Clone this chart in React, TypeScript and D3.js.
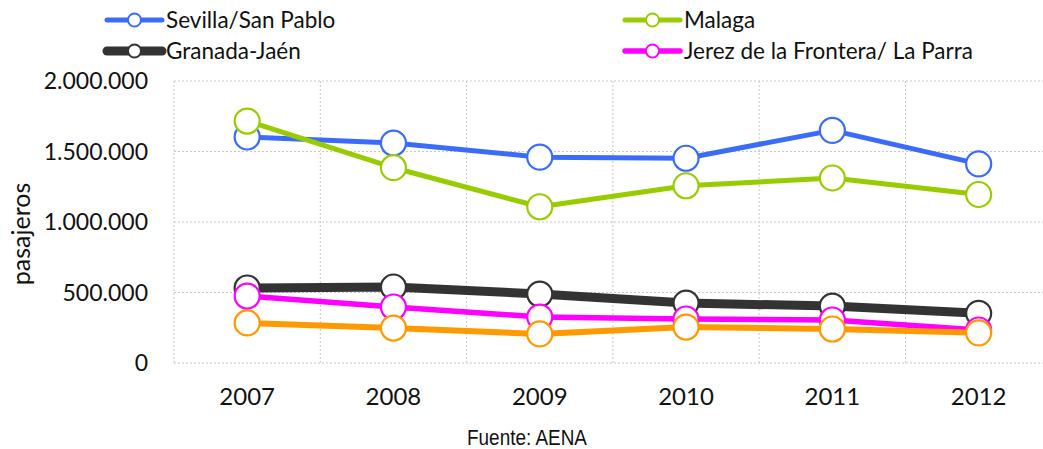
import React from "react";
import * as d3 from "d3";

const W = 1043;
const H = 449;

const years = ["2007", "2008", "2009", "2010", "2011", "2012"];
const yTicks = [0, 500000, 1000000, 1500000, 2000000];

const sevilla = [1603000, 1560000, 1460000, 1452000, 1650000, 1412000];
const malaga = [1716000, 1385000, 1108000, 1257000, 1312000, 1195000];
const granada = [532000, 539000, 489000, 425000, 404000, 352000];
const jerez = [475000, 397000, 326000, 312000, 305000, 234000];
const otro = [284000, 248000, 206000, 255000, 241000, 214000];

const series = [
  { name: "Sevilla/San Pablo", values: sevilla, color: "#3B6CF9", width: 5 },
  { name: "Malaga", values: malaga, color: "#99CC00", width: 5 },
  { name: "Granada-Jaén", values: granada, color: "#333333", width: 9 },
  { name: "Jerez de la Frontera/ La Parra", values: jerez, color: "#FF00FF", width: 5.5 },
  { name: "", values: otro, color: "#FF9900", width: 6 },
];

const FONT = "Lato, 'Open Sans', sans-serif";

export default function App() {
  const left = 174;
  const top = 81;
  const bottom = 363;
  const step = 146.3;

  const x = d3
    .scaleBand<string>()
    .domain(years)
    .range([left, left + step * years.length]);
  const y = d3.scaleLinear().domain([0, 2000000]).range([bottom, top]);
  const cx = (i: number) => (x(years[i]) as number) + x.bandwidth() / 2;

  const line = d3
    .line<number>()
    .x((_, i) => cx(i))
    .y((d) => y(d));

  const fmt = (v: number) => d3.format(",")(v).replace(/,/g, ".");

  const legend = [
    { s: series[0], lx: 107, ly: 20 },
    { s: series[1], lx: 625, ly: 20 },
    { s: series[2], lx: 107, ly: 51 },
    { s: series[3], lx: 625, ly: 51 },
  ];

  return (
    <svg
      width={W}
      height={H}
      style={{ position: "absolute", left: 0, top: 0, background: "#fff" }}
      fontFamily={FONT}
    >
      {/* grid */}
      <g stroke="#c8c8c8" strokeWidth={1} strokeDasharray="2,2" fill="none">
        {yTicks.map((t) => (
          <line key={t} x1={left} x2={W} y1={y(t)} y2={y(t)} />
        ))}
        {years.map((yr) => (
          <line key={yr} x1={x(yr)} x2={x(yr)} y1={top} y2={bottom} />
        ))}
      </g>

      {/* y ticks */}
      <g fontSize={23} textAnchor="end" fill="#111">
        {yTicks.map((t) => (
          <text key={t} x={148} y={y(t)} dy="0.36em">
            {fmt(t)}
          </text>
        ))}
      </g>
      <text
        transform={`translate(30,${(top + bottom) / 2 + 12}) rotate(-90)`}
        textAnchor="middle"
        fontSize={25}
        fill="#111"
      >
        pasajeros
      </text>

      {/* x ticks */}
      <g fontSize={24} textAnchor="middle" fill="#111">
        {years.map((yr, i) => (
          <text key={yr} x={cx(i)} y={405}>
            {yr}
          </text>
        ))}
      </g>

      {/* series */}
      {series.map((s) => (
        <g key={s.color}>
          <path
            d={line(s.values) || ""}
            fill="none"
            stroke={s.color}
            strokeWidth={s.width}
            strokeLinejoin="round"
          />
          {s.values.map((v, i) => (
            <circle
              key={i}
              cx={cx(i)}
              cy={y(v)}
              r={12.5}
              fill="#fff"
              stroke={s.color}
              strokeWidth={2.2}
            />
          ))}
        </g>
      ))}

      {/* legend */}
      {legend.map(({ s, lx, ly }) => (
        <g key={s.name}>
          <line
            x1={lx}
            x2={lx + 55}
            y1={ly}
            y2={ly}
            stroke={s.color}
            strokeWidth={s.width}
            strokeLinecap="round"
          />
          <circle cx={lx + 27.5} cy={ly} r={6.5} fill="#fff" stroke={s.color} strokeWidth={2} />
          <text x={lx + 59} y={ly} dy="0.36em" fontSize={22.5} fill="#111">
            {s.name}
          </text>
        </g>
      ))}

      <text
        x={467}
        y={445}
        fontSize={22}
        fill="#111"
        fontFamily="'Liberation Sans', Arial, sans-serif"
        textLength={120}
        lengthAdjust="spacingAndGlyphs"
      >
        Fuente: AENA
      </text>
    </svg>
  );
}
